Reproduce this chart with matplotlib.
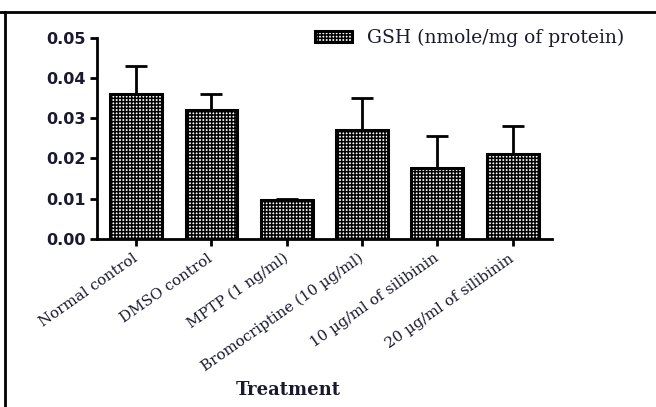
import matplotlib
matplotlib.use("Agg")
import matplotlib.pyplot as plt
from matplotlib.lines import Line2D
import numpy as np

categories = ["Normal control", "DMSO control", "MPTP (1 ng/ml)",
              "Bromocriptine (10 \u00b5g/ml)", "10 \u00b5g/ml of silibinin",
              "20 \u00b5g/ml of silibinin"]
gsh_values = [0.036, 0.032, 0.0096, 0.027, 0.0177, 0.0210]
gsh_errors = [0.007, 0.004, 0.0004, 0.008, 0.008, 0.007]
y_ticks = [0.00, 0.01, 0.02, 0.03, 0.04, 0.05]
legend_label = "GSH (nmole/mg of protein)"

plt.rcParams['hatch.linewidth'] = 1.1
fig = plt.figure(figsize=(6.56, 4.07), dpi=100)
ax = fig.add_axes([0.148, 0.413, 0.693, 0.494])

x = np.arange(len(categories))
bars = ax.bar(x, gsh_values, width=0.69, color="white", edgecolor="black",
              linewidth=2.2, hatch="+++++", label=legend_label, zorder=2)
ax.errorbar(x, gsh_values, yerr=[np.zeros(len(gsh_errors)), gsh_errors],
            fmt="none", ecolor="black", elinewidth=2, capsize=8, capthick=2, zorder=1)

ax.set_xlim(-0.52, len(categories) - 0.48)
ax.set_ylim(0, 0.05)
ax.set_yticks(y_ticks)
ax.set_yticklabels([f"{v:.2f}" for v in y_ticks], fontsize=11.5, fontweight="bold",
                   family="DejaVu Sans", color="#1a1a2e")
ax.set_xticks(x)
ax.set_xticklabels(categories, rotation=35, ha="right", va="center", rotation_mode="anchor",
                   family="DejaVu Serif", fontsize=10.8, color="#1a1a2e")
for s in ["top", "right"]:
    ax.spines[s].set_visible(False)
for s in ["left", "bottom"]:
    ax.spines[s].set_linewidth(2)
ax.tick_params(axis="both", width=2, length=5, direction="out")
ax.tick_params(axis="x", pad=8)

fs = 13.5
px = fs * 100 / 72
leg = ax.legend(loc="center left", bbox_to_anchor=(315 / 656, 1 - 38 / 407),
                bbox_transform=fig.transFigure, frameon=False,
                borderaxespad=0, borderpad=0,
                prop={"family": "DejaVu Serif", "size": fs},
                handlelength=37 / px, handleheight=10 / px, handletextpad=15 / px)
for t in leg.get_texts():
    t.set_color("#1a1a2e")

fig.text(288 / 656, 1 - 390 / 407, "Treatment", ha="center", va="center",
         family="DejaVu Serif", fontweight="bold", fontsize=13, color="#1a1a2e")

# frame lines (top and left)
fig.add_artist(Line2D([0, 1], [1 - 12 / 407, 1 - 12 / 407], color="black", lw=2,
                      transform=fig.transFigure))
fig.add_artist(Line2D([5 / 656, 5 / 656], [0, 1 - 12 / 407], color="black", lw=2,
                      transform=fig.transFigure))

fig.savefig("out.png", dpi=100)
